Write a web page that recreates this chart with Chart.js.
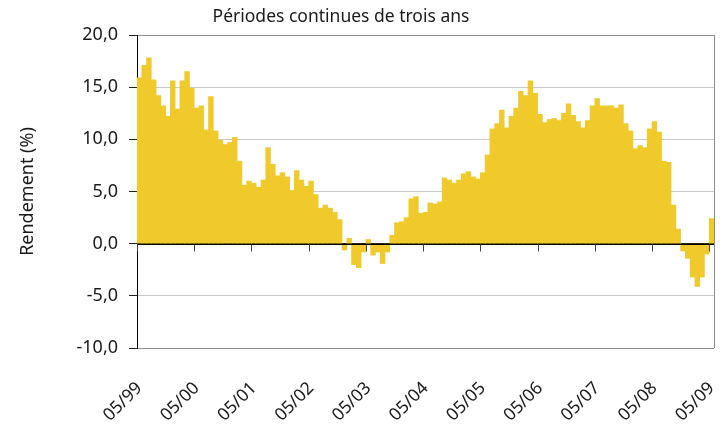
<!DOCTYPE html>
<html><head><meta charset="utf-8">
<script src="https://cdn.jsdelivr.net/npm/chart.js@4.4.1/dist/chart.umd.min.js"></script>
<style>html,body{margin:0;padding:0;background:#fff}#wrap{width:720px;height:431px}</style>
</head><body><div id="wrap"><canvas id="c" width="720" height="431"></canvas></div>
<script>
const chartTitle = 'Périodes continues de trois ans';
const yAxisTitle = 'Rendement (%)';
const categories = [
 '05/99','06/99','07/99','08/99','09/99','10/99','11/99','12/99','01/00','02/00','03/00','04/00',
 '05/00','06/00','07/00','08/00','09/00','10/00','11/00','12/00','01/01','02/01','03/01','04/01',
 '05/01','06/01','07/01','08/01','09/01','10/01','11/01','12/01','01/02','02/02','03/02','04/02',
 '05/02','06/02','07/02','08/02','09/02','10/02','11/02','12/02','01/03','02/03','03/03','04/03',
 '05/03','06/03','07/03','08/03','09/03','10/03','11/03','12/03','01/04','02/04','03/04','04/04',
 '05/04','06/04','07/04','08/04','09/04','10/04','11/04','12/04','01/05','02/05','03/05','04/05',
 '05/05','06/05','07/05','08/05','09/05','10/05','11/05','12/05','01/06','02/06','03/06','04/06',
 '05/06','06/06','07/06','08/06','09/06','10/06','11/06','12/06','01/07','02/07','03/07','04/07',
 '05/07','06/07','07/07','08/07','09/07','10/07','11/07','12/07','01/08','02/08','03/08','04/08',
 '05/08','06/08','07/08','08/08','09/08','10/08','11/08','12/08','01/09','02/09','03/09','04/09',
 '05/09'
];
const returns = [
 15.9,17.1,17.8,15.7,14.2,13.2,12.2,15.6,12.9,15.6,16.5,14.9,
 13.0,13.2,10.9,14.1,10.8,9.9,9.5,9.7,10.2,7.9,5.6,6.0,
 5.8,5.4,6.1,9.2,7.6,6.5,6.8,6.4,5.1,7.0,6.1,5.5,
 6.0,4.7,3.4,3.7,3.4,3.0,2.3,-0.6,0.5,-2.0,-2.3,-0.8,
 0.4,-1.1,-0.8,-1.9,-0.8,0.8,2.0,2.1,2.5,4.3,4.5,2.9,
 3.0,3.9,3.8,4.0,6.3,6.1,5.8,6.1,6.7,6.9,6.4,6.2,
 6.8,8.5,11.0,11.5,12.8,11.1,12.2,13.0,14.6,14.2,15.6,14.4,
 12.4,11.6,11.9,12.0,11.8,12.5,13.4,12.3,11.7,11.1,11.8,13.2,
 13.9,13.2,13.2,13.2,13.0,13.3,11.5,10.8,9.1,9.4,9.2,11.0,
 11.7,10.7,7.9,7.8,3.7,1.4,-0.7,-1.4,-3.2,-4.1,-3.2,-1.0,
 2.4
];
const yMin = -10, yMax = 20, yStep = 5;
const labelEvery = 12;

const FONT = "'Noto Sans', 'Open Sans', sans-serif";
const TEXT = '#1a1a1a';

const framePlugin = {
  id: 'frame',
  afterDatasetsDraw(chart) {
    const {ctx, chartArea: a, scales: {x, y}} = chart;
    ctx.save();
    ctx.lineWidth = 1;
    ctx.strokeStyle = '#8c8c8c';
    ctx.beginPath();
    ctx.moveTo(Math.round(a.right) + 0.5, a.top);
    ctx.lineTo(Math.round(a.right) + 0.5, a.bottom);
    ctx.stroke();
    const y0 = Math.round(y.getPixelForValue(0)) + 0.5;
    ctx.strokeStyle = '#000';
    ctx.beginPath();
    ctx.moveTo(a.left, y0);
    ctx.lineTo(a.right, y0);
    ctx.stroke();
    const half = (x.getPixelForValue(1) - x.getPixelForValue(0)) / 2;
    ctx.strokeStyle = '#444';
    for (let i = 0; i < categories.length; i += labelEvery) {
      const px = Math.round(x.getPixelForValue(i) - half) + 0.5;
      ctx.beginPath();
      ctx.moveTo(px, y0);
      ctx.lineTo(px, y0 + 7);
      ctx.stroke();
    }
    ctx.restore();
  },
  afterDraw(chart) {
    const ctx = chart.ctx;
    ctx.save();
    ctx.font = "17.5px " + FONT;
    ctx.fillStyle = TEXT;
    ctx.textAlign = 'center';
    ctx.textBaseline = 'middle';
    ctx.fillText(chartTitle, 341, 17);
    ctx.restore();
  }
};

new Chart(document.getElementById('c'), {
  type: 'bar',
  data: {
    labels: categories,
    datasets: [{
      data: returns,
      backgroundColor: '#F0C92B',
      borderWidth: 0,
      categoryPercentage: 1,
      barPercentage: 1
    }]
  },
  options: {
    responsive: false,
    animation: false,
    layout: {padding: {top: 35, right: 6, left: 0, bottom: 0}},
    plugins: {legend: {display: false}, tooltip: {enabled: false}, title: {display: false}},
    scales: {
      x: {
        grid: {display: false},
        border: {display: false},
        ticks: {
          autoSkip: false, maxRotation: 45, minRotation: 45, padding: 22,
          font: {family: FONT, size: 17.5}, color: TEXT,
          callback: (v, i) => (i % labelEvery === 0 ? categories[i] : null)
        },
        afterFit: s => { s.height = 83; s.paddingRight = 0; s.paddingLeft = 0; }
      },
      y: {
        min: yMin, max: yMax,
        ticks: {
          stepSize: yStep, padding: 11,
          font: {family: FONT, size: 18}, color: TEXT,
          callback: v => v.toFixed(1).replace('.', ',')
        },
        grid: {
          color: c => (c.tick && c.tick.value === 0 ? '#000' : (c.tick && (c.tick.value === yMax || c.tick.value === yMin) ? '#8c8c8c' : '#cacaca')),
          tickColor: '#222', tickLength: 8
        },
        border: {color: '#000'},
        title: {display: true, text: yAxisTitle, font: {family: FONT, size: 18}, color: TEXT, padding: {top: 17, bottom: 0}},
        afterFit: s => { s.width = 137; }
      }
    }
  },
  plugins: [framePlugin]
});
</script>
</body></html>
